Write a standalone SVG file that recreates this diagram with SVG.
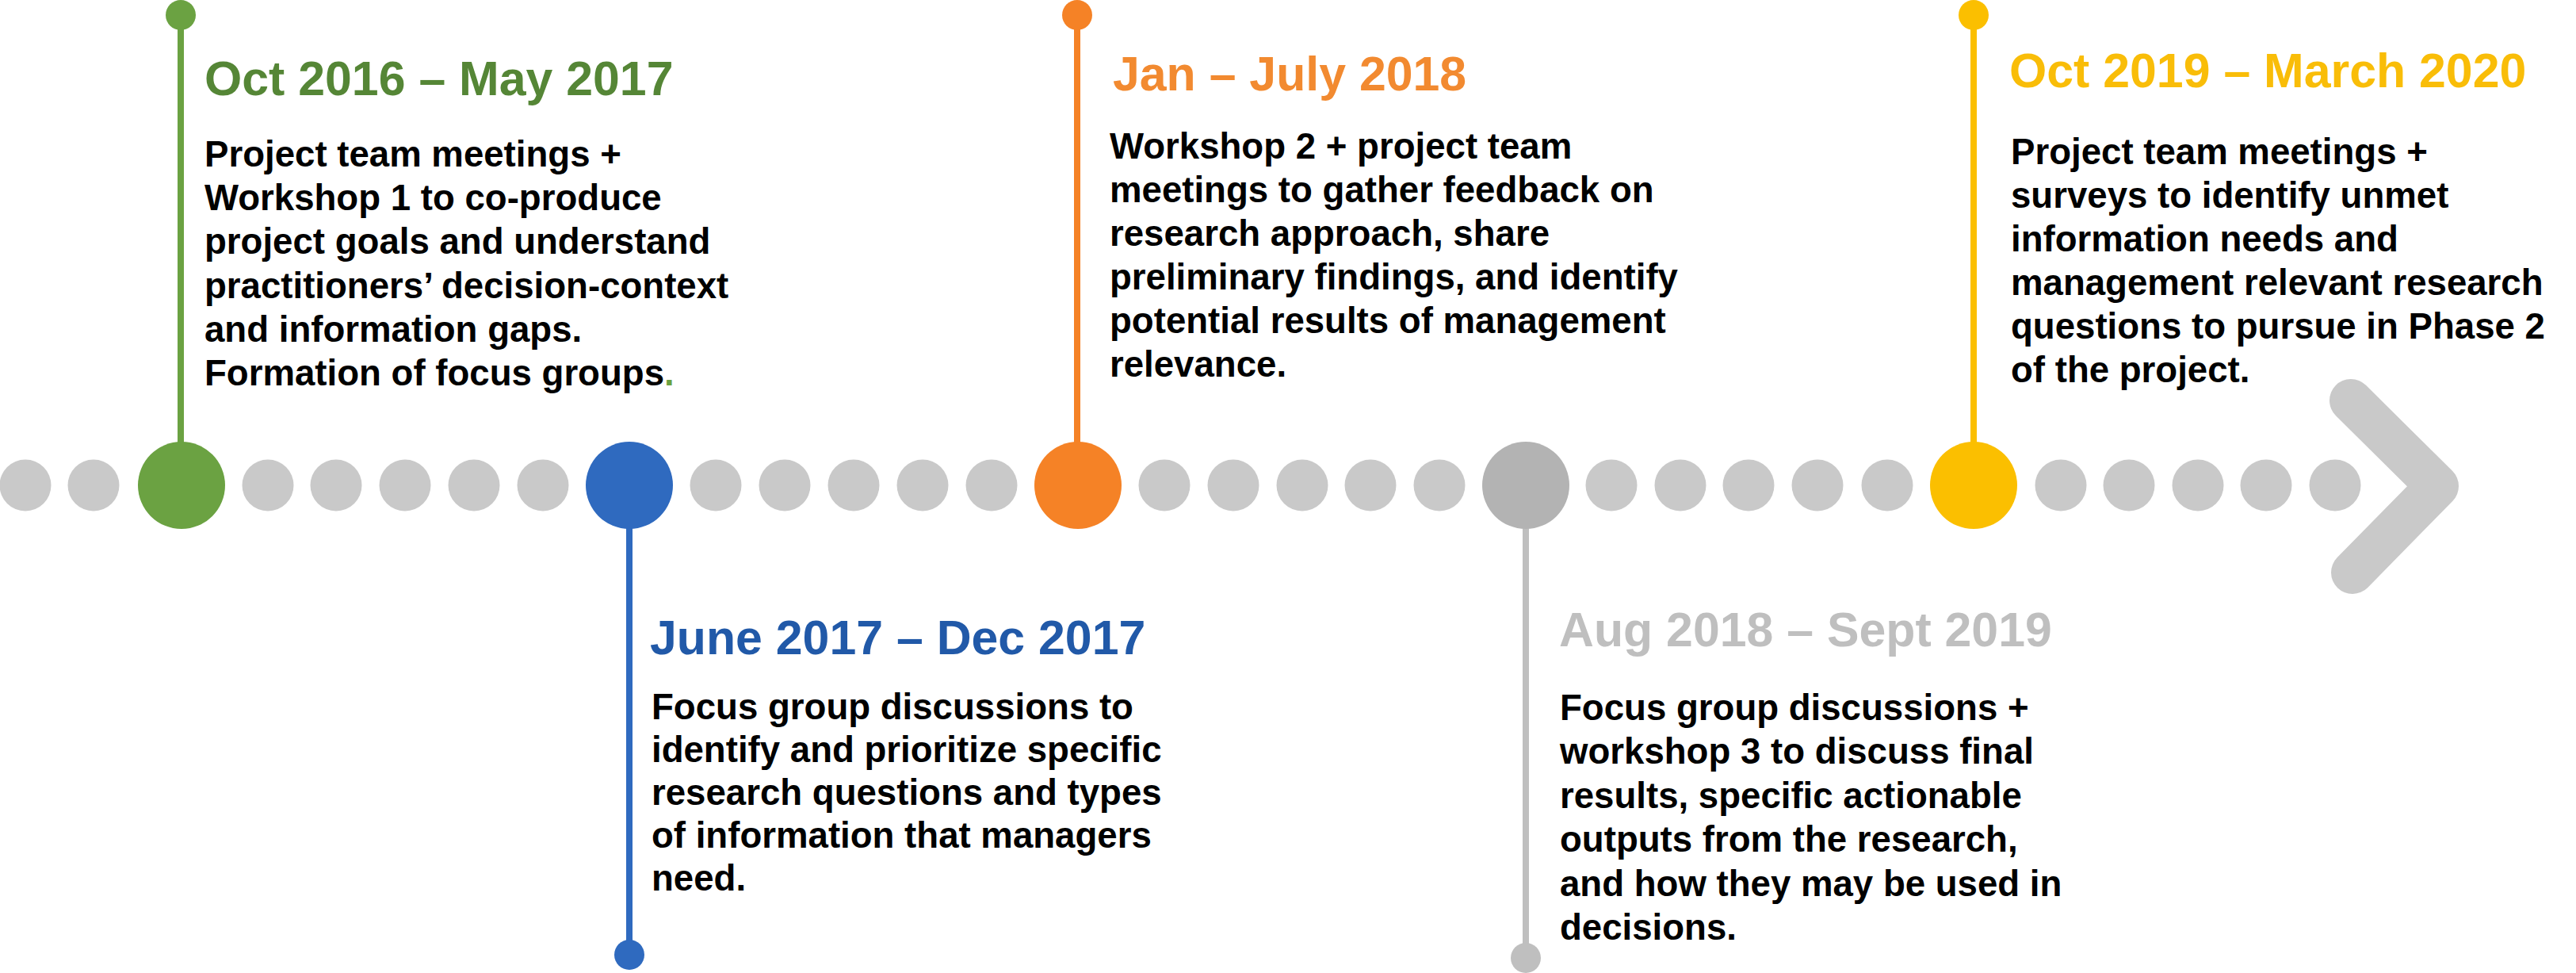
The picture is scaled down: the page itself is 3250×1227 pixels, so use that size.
<svg xmlns="http://www.w3.org/2000/svg" width="3250" height="1227" viewBox="0 0 3250 1227">
<style>
text{font-family:"Liberation Sans",Arial,Helvetica,sans-serif;font-weight:bold}
.t{font-size:60.8px}
.b{font-size:45.6px;fill:#000}
.dot{fill:#c9c9c9}
.stem{stroke-width:8;fill:none}
</style>
<rect width="3250" height="1227" fill="#ffffff"/>
<g id="timeline">
<g class="dot">
<circle cx="32" cy="612" r="32.5"/><circle cx="118" cy="612" r="32.5"/>
<circle cx="338" cy="612" r="32.5"/><circle cx="424" cy="612" r="32.5"/><circle cx="511" cy="612" r="32.5"/><circle cx="598" cy="612" r="32.5"/><circle cx="685" cy="612" r="32.5"/>
<circle cx="903" cy="612" r="32.5"/><circle cx="990" cy="612" r="32.5"/><circle cx="1077" cy="612" r="32.5"/><circle cx="1164" cy="612" r="32.5"/><circle cx="1251" cy="612" r="32.5"/>
<circle cx="1469" cy="612" r="32.5"/><circle cx="1556" cy="612" r="32.5"/><circle cx="1643" cy="612" r="32.5"/><circle cx="1729" cy="612" r="32.5"/><circle cx="1816" cy="612" r="32.5"/>
<circle cx="2033" cy="612" r="32.5"/><circle cx="2120" cy="612" r="32.5"/><circle cx="2206" cy="612" r="32.5"/><circle cx="2293" cy="612" r="32.5"/><circle cx="2381" cy="612" r="32.5"/>
<circle cx="2600" cy="612" r="32.5"/><circle cx="2686" cy="612" r="32.5"/><circle cx="2773" cy="612" r="32.5"/><circle cx="2859" cy="612" r="32.5"/><circle cx="2946" cy="612" r="32.5"/>
</g>
<path d="M2966,505 L3075,613 L2968,722" fill="none" stroke="#c9c9c9" stroke-width="54" stroke-linecap="round" stroke-linejoin="round"/>
</g>
<g id="connectors">
<line class="stem" x1="228" y1="19" x2="228" y2="560" stroke="#6ba242"/>
<line class="stem" x1="794" y1="664" x2="794" y2="1204" stroke="#2f6abf"/>
<line class="stem" x1="1359" y1="19" x2="1359" y2="560" stroke="#f58226"/>
<line class="stem" x1="1925" y1="664" x2="1925" y2="1208" stroke="#bfbfbf"/>
<line class="stem" x1="2490" y1="19" x2="2490" y2="560" stroke="#fbbf00"/>
</g>
<g id="node-oct2016">
<circle cx="228" cy="19" r="19" fill="#6ba242"/>
<circle cx="229" cy="612" r="55" fill="#6ba242"/>
<text class="t" x="258" y="120" fill="#558636">Oct 2016 – May 2017</text>
<text class="b" x="258" y="210">Project team meetings +</text>
<text class="b" x="258" y="265">Workshop 1 to co-produce</text>
<text class="b" x="258" y="320">project goals and understand</text>
<text class="b" x="258" y="376">practitioners’ decision-context</text>
<text class="b" x="258" y="431">and information gaps.</text>
<text class="b" x="258" y="486">Formation of focus groups<tspan fill="#6ba242">.</tspan></text>
</g>
<g id="node-june2017">
<circle cx="794" cy="1204" r="19" fill="#2f6abf"/>
<circle cx="794" cy="612" r="55" fill="#2f6abf"/>
<text class="t" x="820" y="825" fill="#2159a8">June 2017 – Dec 2017</text>
<text class="b" x="822" y="907">Focus group discussions to</text>
<text class="b" x="822" y="961">identify and prioritize specific</text>
<text class="b" x="822" y="1015">research questions and types</text>
<text class="b" x="822" y="1069">of information that managers</text>
<text class="b" x="822" y="1123">need.</text>
</g>
<g id="node-jan2018">
<circle cx="1359" cy="19" r="19" fill="#f58226"/>
<circle cx="1360" cy="612" r="55" fill="#f58226"/>
<text class="t" x="1404" y="114" fill="#f28a30">Jan – July 2018</text>
<text class="b" x="1400" y="200">Workshop 2 + project team</text>
<text class="b" x="1400" y="255">meetings to gather feedback on</text>
<text class="b" x="1400" y="310">research approach, share</text>
<text class="b" x="1400" y="365">preliminary findings, and identify</text>
<text class="b" x="1400" y="420">potential results of management</text>
<text class="b" x="1400" y="475">relevance.</text>
</g>
<g id="node-aug2018">
<circle cx="1925" cy="1208" r="19" fill="#bfbfbf"/>
<circle cx="1925" cy="612" r="55" fill="#b3b3b3"/>
<text class="t" x="1967" y="815" fill="#bfbfbf">Aug 2018 – Sept 2019</text>
<text class="b" x="1968" y="908">Focus group discussions +</text>
<text class="b" x="1968" y="963">workshop 3 to discuss final</text>
<text class="b" x="1968" y="1019">results, specific actionable</text>
<text class="b" x="1968" y="1074">outputs from the research,</text>
<text class="b" x="1968" y="1130">and how they may be used in</text>
<text class="b" x="1968" y="1185">decisions.</text>
</g>
<g id="node-oct2019">
<circle cx="2490" cy="19" r="19" fill="#fbbf00"/>
<circle cx="2490" cy="612" r="55" fill="#fbbf00"/>
<text class="t" x="2535" y="110" fill="#f9bd08">Oct 2019 – March 2020</text>
<text class="b" x="2537" y="207">Project team meetings +</text>
<text class="b" x="2537" y="262">surveys to identify unmet</text>
<text class="b" x="2537" y="317">information needs and</text>
<text class="b" x="2537" y="372">management relevant research</text>
<text class="b" x="2537" y="427">questions to pursue in Phase 2</text>
<text class="b" x="2537" y="482">of the project.</text>
</g>
</svg>
